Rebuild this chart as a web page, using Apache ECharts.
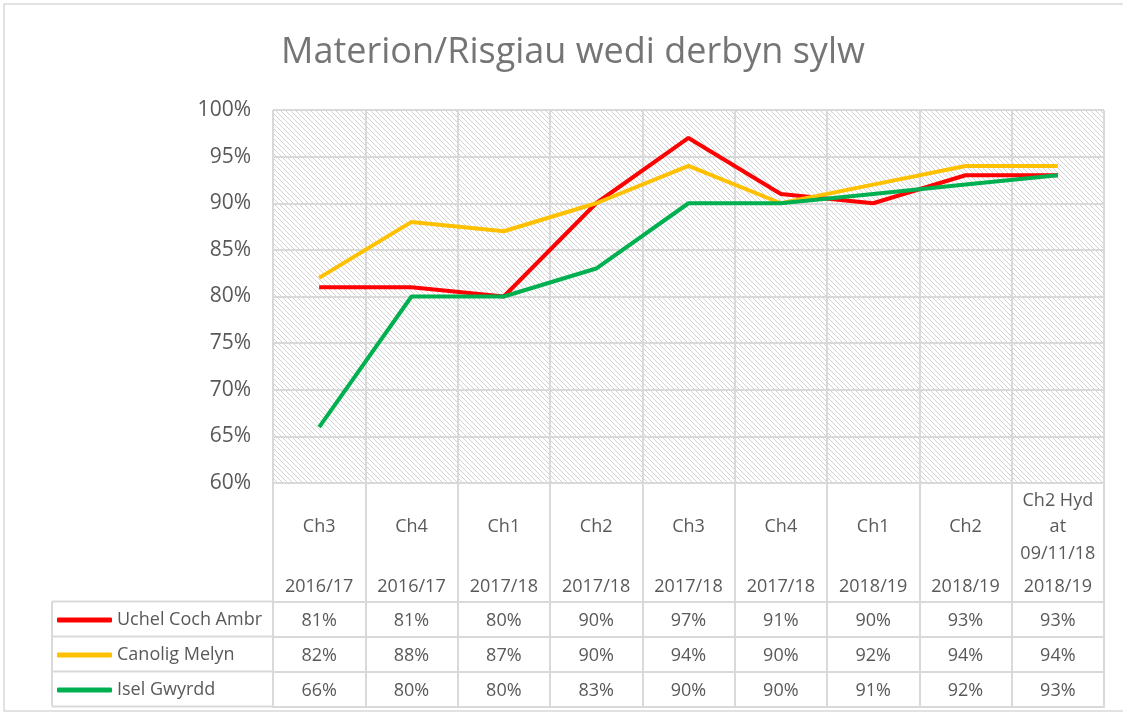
<!DOCTYPE html>
<html>
<head>
<meta charset="utf-8">
<script src="https://cdn.jsdelivr.net/npm/echarts@6/dist/echarts.min.js"></script>
<style>
html,body{margin:0;padding:0;background:#fff;}
#chart{width:1123px;height:715px;}
</style>
</head>
<body>
<div id="chart"></div>
<script>
// ---- data ----
const categories = ['Ch3','Ch4','Ch1','Ch2','Ch3','Ch4','Ch1','Ch2','Ch2 Hyd\nat\n09/11/18'];
const years = ['2016/17','2016/17','2017/18','2017/18','2017/18','2017/18','2018/19','2018/19','2018/19'];
const seriesNames = ['Uchel Coch Ambr','Canolig Melyn','Isel Gwyrdd'];
const redValues = [81,81,80,90,97,91,90,93,93];
const yellowValues = [82,88,87,90,94,90,92,94,94];
const greenValues = [66,80,80,83,90,90,91,92,93];
const yTicks = [60,65,70,75,80,85,90,95,100];

// ---- style / layout ----
const colors = ['#FF0000','#FFC000','#00B050'];
const allValues = [redValues, yellowValues, greenValues];
const FONT = 'Open Sans';
const TXT = '#595959';
const LINE = '#D9D9D9';
const gridLeft = 273, gridRight = 19, gridTop = 110, gridBottomY = 483;
const headerH = 118.5, rowH = 35;

// hatch pattern
const hc = document.createElement('canvas');
const P = 5;
hc.width = P; hc.height = P;
const hctx = hc.getContext('2d');
hctx.fillStyle = '#fff'; hctx.fillRect(0,0,P,P);
hctx.fillStyle = '#D2D2D2';
for (let i = 0; i < P; i++) { hctx.fillRect(i, i, 1, 1); }

const chart = echarts.init(document.getElementById('chart'), null, {renderer:'canvas'});

const lineStyle = {color: LINE, width: 2};
const xAxes = [
  { // header category labels + header separators
    type:'category', data: categories, position:'bottom', boundaryGap:true,
    axisLine:{show:true, lineStyle: lineStyle},
    axisTick:{show:true, length: headerH, lineStyle: lineStyle},
    splitLine:{show:true, lineStyle: lineStyle},
    axisLabel:{interval:0, margin:44, verticalAlign:'middle', lineHeight:26.5,
      fontFamily:FONT, fontSize:18, color:TXT}
  },
  { // year labels
    type:'category', data: years, position:'bottom', boundaryGap:true,
    axisLine:{show:false}, axisTick:{show:false}, splitLine:{show:false},
    axisLabel:{interval:0, margin:104, verticalAlign:'middle', fontFamily:FONT, fontSize:18, color:TXT}
  }
];
allValues.forEach((vals, r) => {
  xAxes.push({
    type:'category', data: vals.map((v,i)=>String(i)), position:'bottom', boundaryGap:true,
    offset: headerH + r*rowH,
    axisLine:{show:true, lineStyle: lineStyle},
    axisTick:{show:true, length: rowH, lineStyle: lineStyle},
    splitLine:{show:false},
    axisLabel:{interval:0, margin:rowH/2 + 2, verticalAlign:'middle', fontFamily:FONT, fontSize:18, color:TXT,
      formatter:(v, idx) => vals[idx] + '%'}
  });
});
xAxes.push({
  type:'category', data: categories.map((c,i)=>String(i)), position:'bottom', boundaryGap:true,
  offset: headerH + 3*rowH,
  axisLine:{show:true, lineStyle: lineStyle},
  axisTick:{show:false}, axisLabel:{show:false}, splitLine:{show:false}
});

const rowTops = [0,1,2,3].map(r => gridBottomY + headerH + r*rowH);
const graphics = [
  {type:'rect', shape:{x:4, y:4, width:1140, height:707}, style:{fill:null, stroke:LINE, lineWidth:1.5}, silent:true}
];
rowTops.forEach(y => graphics.push({type:'line', shape:{x1:52, y1:y, x2:gridLeft, y2:y}, style:{stroke:LINE, lineWidth:2}, silent:true}));
graphics.push({type:'line', shape:{x1:52, y1:rowTops[0], x2:52, y2:rowTops[3]}, style:{stroke:LINE, lineWidth:2}, silent:true});

const legends = seriesNames.map((n, r) => ({
  data:[n], left:57, top: rowTops[r] + rowH/2 - 9, orient:'horizontal', padding:0,
  icon:'roundRect', itemWidth:55, itemHeight:5, itemGap:0, selectedMode:false,
  textStyle:{fontFamily:FONT, fontSize:18, color:TXT, lineHeight:20, padding:[0,0,0,0]}
}));

chart.setOption({
  animation:false,
  backgroundColor:'#fff',
  title:{text:'Materion/Risgiau wedi derbyn sylw', left:276, top:30,
    textStyle:{fontFamily:FONT, fontWeight:'normal', fontSize:36, color:'#757575'}},
  legend: legends,
  grid:{left:gridLeft, right:gridRight, top:gridTop, bottom:715-gridBottomY, show:true,
    borderWidth:0, backgroundColor:{image: hc, repeat:'repeat'}},
  xAxis: xAxes,
  yAxis:{type:'value', min:60, max:100, interval:5,
    axisLine:{show:false}, axisTick:{show:false},
    splitLine:{show:true, lineStyle: lineStyle},
    axisLabel:{margin:22, formatter:'{value}%', fontFamily:FONT, fontSize:21, color:TXT}},
  graphic: graphics,
  series: allValues.map((vals, r) => ({
    name: seriesNames[r], type:'line', data: vals, xAxisIndex:0, yAxisIndex:0,
    symbol:'none', color: colors[r], lineStyle:{width:4, color: colors[r]}
  }))
});
</script>
</body>
</html>
